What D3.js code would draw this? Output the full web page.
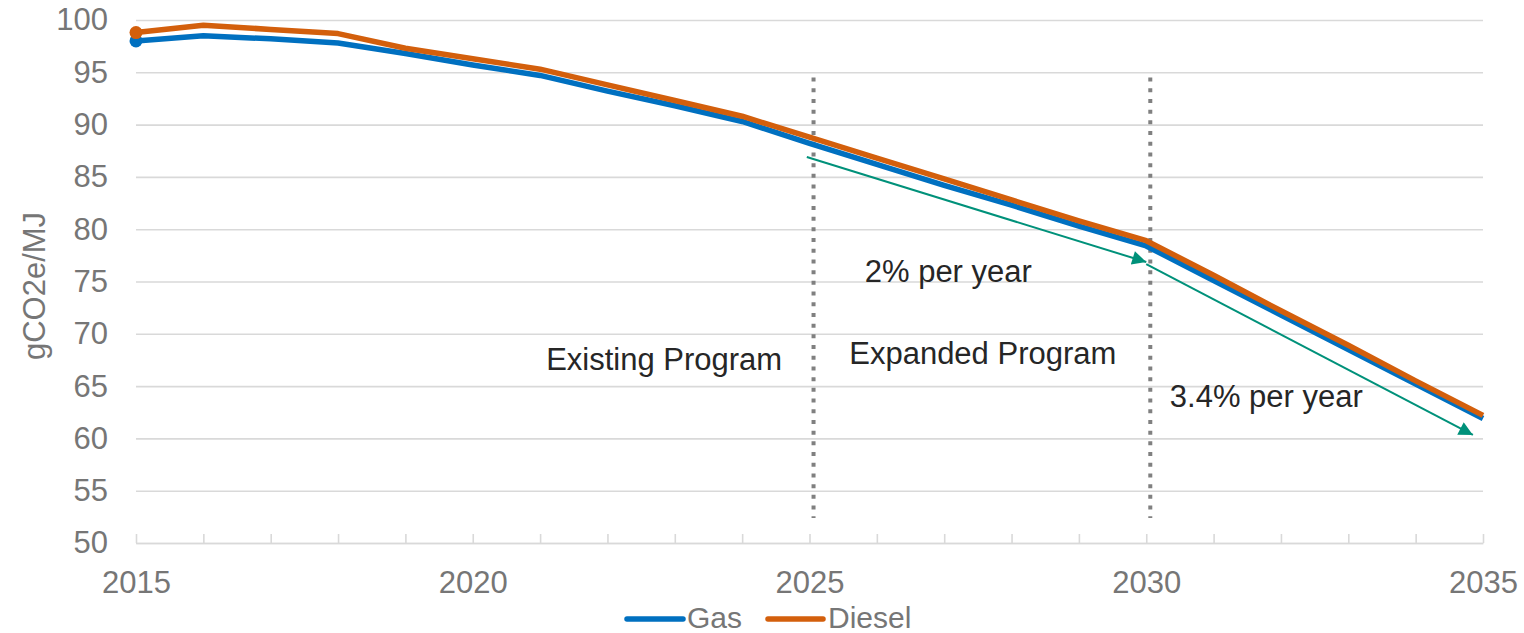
<!DOCTYPE html>
<html>
<head>
<meta charset="utf-8">
<script src="https://cdn.jsdelivr.net/npm/d3@7"></script>
<style>
  html, body { margin: 0; padding: 0; background: #fff; }
  svg { display: block; font-family: "Liberation Sans", Arial, sans-serif; }
</style>
</head>
<body>
<svg id="chart" width="1524" height="633"></svg>
<script>
// Carbon intensity standard, gCO2e/MJ
const years  = [2015, 2016, 2017, 2018, 2019, 2020, 2021, 2022, 2023, 2024, 2025,
                2026, 2027, 2028, 2029, 2030, 2031, 2032, 2033, 2034, 2035];
const gas    = [98.0, 98.5, 98.2, 97.8, 96.8, 95.7, 94.7, 93.2, 91.8, 90.3, 88.2,
                86.2, 84.2, 82.3, 80.3, 78.4, 75.1, 71.8, 68.5, 65.2, 61.9];
const diesel = [98.8, 99.5, 99.1, 98.7, 97.3, 96.3, 95.3, 93.8, 92.3, 90.8, 88.8,
                86.8, 84.8, 82.8, 80.8, 78.9, 75.6, 72.2, 68.9, 65.5, 62.2];

const yTicks = [50, 55, 60, 65, 70, 75, 80, 85, 90, 95, 100];
const xLabelYears = [2015, 2020, 2025, 2030, 2035];

// Program phase boundaries
const dividerYears = [2025.06, 2030.06];

// Reduction-rate arrows: [year, value] start and end
const arrows = [
  { from: [2024.96, 86.9], to: [2030.0, 76.86] },
  { from: [2030.0, 76.67], to: [2034.85, 60.33] }
];

// Text notes anchored at [year, value] (left edge, baseline)
const notes = [
  { text: "2% per year",      at: [2025.82, 74.95] },
  { text: "Existing Program", at: [2021.09, 66.5] },
  { text: "Expanded Program", at: [2025.59, 67.1] },
  { text: "3.4% per year",    at: [2030.35, 63.0] }
];

const series = [
  { name: "Gas",    values: gas,    color: "#0070C0" },
  { name: "Diesel", values: diesel, color: "#D35F0C" }
];

const svg = d3.select("#chart");
const plotLeft = 136, plotRight = 1483, plotTop = 20, plotBottom = 543;

const x = d3.scaleLinear().domain([2015, 2035]).range([plotLeft, plotRight]);
const y = d3.scaleLinear().domain([50, 100]).range([plotBottom, plotTop]);

const gridColor = "#d9d9d9";
const labelColor = "#767676";

// Horizontal gridlines + y labels
const yAxis = svg.append("g")
  .attr("transform", `translate(${plotLeft},0)`)
  .call(d3.axisLeft(y).tickValues(yTicks).tickSize(-(plotRight - plotLeft)).tickPadding(28));
yAxis.select(".domain").remove();
yAxis.selectAll(".tick line").attr("stroke", gridColor).attr("stroke-width", 1.6);
yAxis.selectAll(".tick text")
  .attr("fill", labelColor).attr("font-size", 31)
  .attr("font-family", "Liberation Sans, Arial, sans-serif");

// X axis with yearly ticks pointing up
const xAxis = svg.append("g")
  .attr("transform", `translate(0,${plotBottom})`)
  .call(d3.axisBottom(x).tickValues(years).tickSize(-9).tickSizeOuter(0)
    .tickFormat(d => xLabelYears.includes(d) ? String(d) : ""));
xAxis.select(".domain").attr("stroke", gridColor).attr("stroke-width", 1.6);
xAxis.selectAll(".tick line").attr("stroke", gridColor).attr("stroke-width", 1.6);
xAxis.selectAll(".tick text")
  .attr("fill", labelColor).attr("font-size", 31)
  .attr("font-family", "Liberation Sans, Arial, sans-serif")
  .attr("y", 50).attr("dy", 0);

// Y axis title
svg.append("text")
  .attr("transform", `translate(45,286) rotate(-90)`)
  .attr("text-anchor", "middle")
  .attr("fill", labelColor)
  .attr("font-size", 31)
  .text("gCO2e/MJ");

// Dotted phase dividers
svg.append("g").selectAll("line").data(dividerYears).join("line")
  .attr("x1", d => x(d)).attr("x2", d => x(d))
  .attr("y1", y(94.5)).attr("y2", y(52.4))
  .attr("stroke", "#808080").attr("stroke-width", 4)
  .attr("stroke-dasharray", "4,6.7");

// Series lines
const line = d3.line().x((d, i) => x(years[i])).y(d => y(d));
series.forEach(s => {
  svg.append("path")
    .datum(s.values)
    .attr("fill", "none")
    .attr("stroke", s.color)
    .attr("stroke-width", 5.5)
    .attr("stroke-linejoin", "round")
    .attr("d", line);
  svg.append("circle")
    .attr("cx", x(years[0])).attr("cy", y(s.values[0]))
    .attr("r", 6.5).attr("fill", s.color);
});

// Arrowhead marker
const arrowColor = "#00917A";
svg.append("defs").append("marker")
  .attr("id", "arrowhead")
  .attr("viewBox", "0 0 10 10")
  .attr("refX", 10).attr("refY", 5)
  .attr("markerWidth", 8.5).attr("markerHeight", 7)
  .attr("markerUnits", "strokeWidth")
  .attr("orient", "auto")
  .append("path").attr("d", "M0,0 L10,5 L0,10 Z").attr("fill", arrowColor);

svg.append("g").selectAll("line").data(arrows).join("line")
  .attr("x1", d => x(d.from[0])).attr("y1", d => y(d.from[1]))
  .attr("x2", d => x(d.to[0])).attr("y2", d => y(d.to[1]))
  .attr("stroke", arrowColor).attr("stroke-width", 2)
  .attr("marker-end", "url(#arrowhead)");

// Notes
svg.append("g").selectAll("text").data(notes).join("text")
  .attr("x", d => x(d.at[0])).attr("y", d => y(d.at[1]))
  .attr("fill", "#262626").attr("font-size", 31)
  .text(d => d.text);

// Legend
const legend = svg.append("g");
const legendItems = [
  { s: series[0], x0: 627, x1: 683, tx: 687 },
  { s: series[1], x0: 768, x1: 823, tx: 828 }
];
legendItems.forEach(it => {
  legend.append("line")
    .attr("x1", it.x0).attr("x2", it.x1).attr("y1", 619).attr("y2", 619)
    .attr("stroke", it.s.color).attr("stroke-width", 5.5)
    .attr("stroke-linecap", "round");
  legend.append("text")
    .attr("x", it.tx).attr("y", 628)
    .attr("fill", labelColor).attr("font-size", 30)
    .text(it.s.name);
});
</script>
</body>
</html>
